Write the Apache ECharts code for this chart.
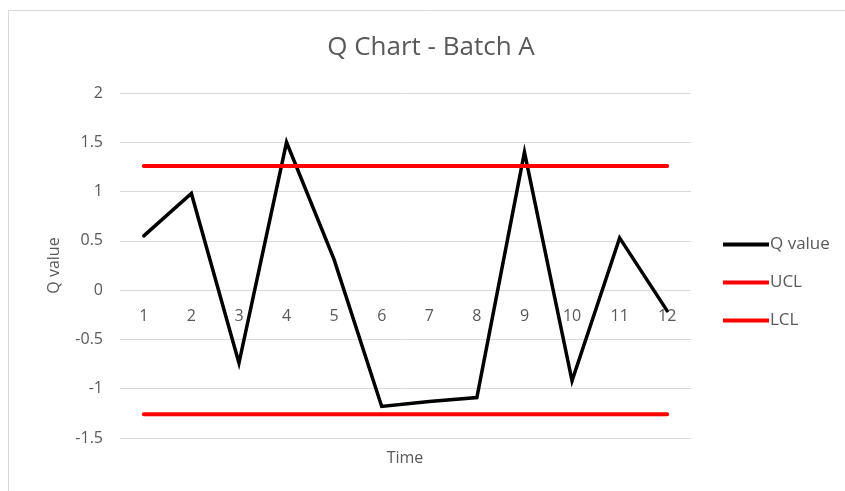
<!DOCTYPE html>
<html>
<head>
<meta charset="utf-8">
<script src="https://cdn.jsdelivr.net/npm/echarts@6/dist/echarts.min.js"></script>
<style>
  html, body { margin: 0; padding: 0; background: #ffffff; }
  #chart { width: 845px; height: 491px; }
</style>
</head>
<body>
<div id="chart"></div>
<script>
// Sample index along the time axis
const timeLabels = ['1', '2', '3', '4', '5', '6', '7', '8', '9', '10', '11', '12'];
// Q statistic for each sample of batch A
const qValues = [0.55, 0.98, -0.74, 1.5, 0.31, -1.18, -1.13, -1.09, 1.4, -0.92, 0.53, -0.21];
// Control limits
const uclValue = 1.26;
const lclValue = -1.26;
const uclLine = timeLabels.map(() => uclValue);
const lclLine = timeLabels.map(() => lclValue);

const FONT = '"Open Sans", "Noto Sans", sans-serif';
const TEXT_COLOR = '#595959';
const GRID_COLOR = '#d9d9d9';

const chart = echarts.init(document.getElementById('chart'), null, { renderer: 'canvas' });

chart.setOption({
  animation: false,
  backgroundColor: '#ffffff',
  textStyle: { fontFamily: FONT },
  title: [
    {
      text: 'Q Chart - Batch A',
      left: 431,
      top: 35,
      textAlign: 'center',
      padding: 0,
      textStyle: { fontFamily: FONT, fontSize: 26, fontWeight: 'normal', color: TEXT_COLOR }
    },
    {
      text: 'Time',
      left: 405,
      top: 450,
      textAlign: 'center',
      padding: 0,
      textStyle: { fontFamily: FONT, fontSize: 16, fontWeight: 'normal', color: TEXT_COLOR }
    }
  ],
  graphic: [
    {
      type: 'rect',
      silent: true,
      shape: { x: 8.5, y: 10.5, width: 900, height: 600 },
      style: { fill: 'none', stroke: GRID_COLOR, lineWidth: 1 }
    }
  ],
  legend: {
    orient: 'vertical',
    left: 723,
    top: 236,
    padding: 0,
    icon: 'rect',
    itemWidth: 46,
    itemHeight: 4,
    itemGap: 21,
    textStyle: { fontFamily: FONT, fontSize: 17, color: TEXT_COLOR, padding: [0, 0, 0, -4] },
    data: ['Q value', 'UCL', 'LCL']
  },
  grid: { left: 120, right: 154, top: 93, bottom: 53, containLabel: false },
  xAxis: {
    type: 'category',
    data: timeLabels,
    boundaryGap: true,
    position: 'bottom',
    offset: 0,
    axisLine: { show: false, onZero: false },
    axisTick: { show: false },
    splitLine: { show: false },
    axisLabel: { color: TEXT_COLOR, fontFamily: FONT, fontSize: 16, margin: 18, interval: 0 }
  },
  yAxis: {
    type: 'value',
    min: -1.5,
    max: 2,
    interval: 0.5,
    name: 'Q value',
    nameLocation: 'middle',
    nameGap: 58,
    nameTextStyle: { color: TEXT_COLOR, fontFamily: FONT, fontSize: 16 },
    axisLine: { show: false },
    axisTick: { show: false },
    splitLine: { show: true, lineStyle: { color: GRID_COLOR, width: 1 } },
    axisLabel: { color: TEXT_COLOR, fontFamily: FONT, fontSize: 16, margin: 17 }
  },
  series: [
    {
      name: 'Q value',
      type: 'line',
      data: qValues,
      symbol: 'none',
      color: '#000000',
      lineStyle: { color: '#000000', width: 3.5, cap: 'round', join: 'miter' }
    },
    {
      name: 'UCL',
      type: 'line',
      data: uclLine,
      symbol: 'none',
      color: '#ff0000',
      lineStyle: { color: '#ff0000', width: 4, cap: 'round' }
    },
    {
      name: 'LCL',
      type: 'line',
      data: lclLine,
      symbol: 'none',
      color: '#ff0000',
      lineStyle: { color: '#ff0000', width: 4, cap: 'round' }
    }
  ]
});

// Move the category labels up so they sit along the value-axis zero line
const zeroY = chart.convertToPixel({ yAxisIndex: 0 }, 0);
const bottomY = chart.convertToPixel({ yAxisIndex: 0 }, -1.5);
chart.setOption({ xAxis: { offset: zeroY - bottomY } });
</script>
</body>
</html>
